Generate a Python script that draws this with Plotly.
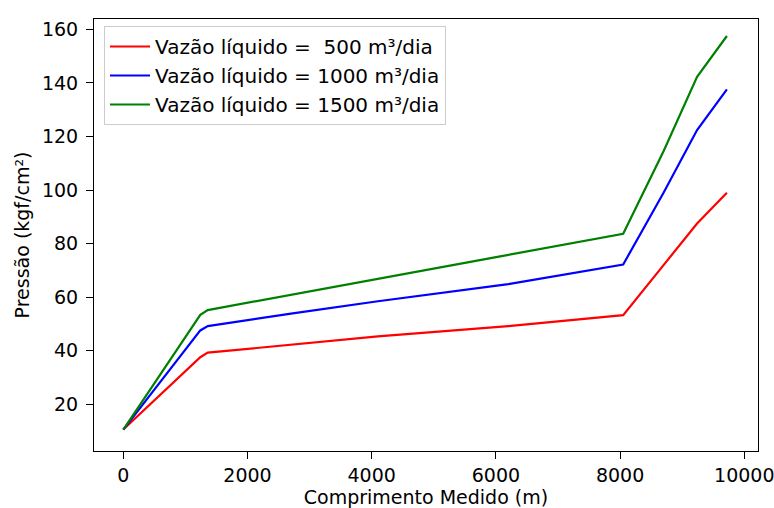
import plotly.graph_objects as go

# Data
comprimento = [0, 1240, 1360, 2700, 4100, 6200, 8050, 8700, 9240, 9720]
p_500 = [10.6, 37.6, 39.3, 42.3, 45.4, 49.2, 53.3, 72.0, 87.5, 99.0]
p_1000 = [10.6, 47.6, 49.2, 53.9, 58.5, 64.9, 72.2, 99.0, 122.4, 137.6]
p_1500 = [10.6, 53.4, 55.2, 60.9, 66.9, 75.8, 83.7, 114.5, 142.3, 157.5]
labels = ["Vazão líquido =  500 m³/dia",
          "Vazão líquido = 1000 m³/dia",
          "Vazão líquido = 1500 m³/dia"]
colors = ["#ff0000", "#0000ff", "#008000"]
x_ticks = [0, 2000, 4000, 6000, 8000, 10000]
y_ticks = [20, 40, 60, 80, 100, 120, 140, 160]

FONT = "DejaVu Sans"
FS = 19
fig = go.Figure()
for ys, name, c in zip([p_500, p_1000, p_1500], labels, colors):
    fig.add_trace(go.Scatter(x=comprimento, y=ys, mode="lines", name=name,
                             line=dict(color=c, width=2.2)))

W, H = 774, 508
L, R, T, B = 94, 16, 19, 57
pw, ph = W - L - R, H - T - B

axis_common = dict(showline=True, linecolor="#000000", linewidth=1, mirror=True,
                   ticks="outside", ticklen=7, tickcolor="#000000", tickwidth=1,
                   showgrid=False, zeroline=False, automargin=False,
                   ticklabeloverflow="allow",
                   tickfont=dict(family=FONT, size=FS, color="#000000"))

fig.update_layout(
    width=W, height=H,
    margin=dict(l=L, r=R, t=T, b=B),
    paper_bgcolor="white", plot_bgcolor="white",
    font=dict(family=FONT, size=FS, color="#000000"),
    xaxis=dict(range=[-472, 10221], tickvals=x_ticks,
               ticktext=[str(v) for v in x_ticks],
               title=dict(text="Comprimento Medido (m)", standoff=7,
                          font=dict(family=FONT, size=FS)),
               **axis_common),
    yaxis=dict(range=[2.6, 163.85], tickvals=y_ticks,
               ticktext=[str(v) for v in y_ticks],
               ticklabelstandoff=4,
               title=dict(text="Pressão (kgf/cm²)", standoff=7,
                          font=dict(family=FONT, size=FS)),
               **axis_common),
    legend=dict(x=(104 - L) / pw, y=1 - (26 - T) / ph, xanchor="left", yanchor="top",
                bgcolor="rgba(255,255,255,0.8)", bordercolor="#cccccc", borderwidth=1,
                itemwidth=40,
                font=dict(family=FONT, size=20, color="#000000")),
    showlegend=True,
)

fig.write_html("out.html")
